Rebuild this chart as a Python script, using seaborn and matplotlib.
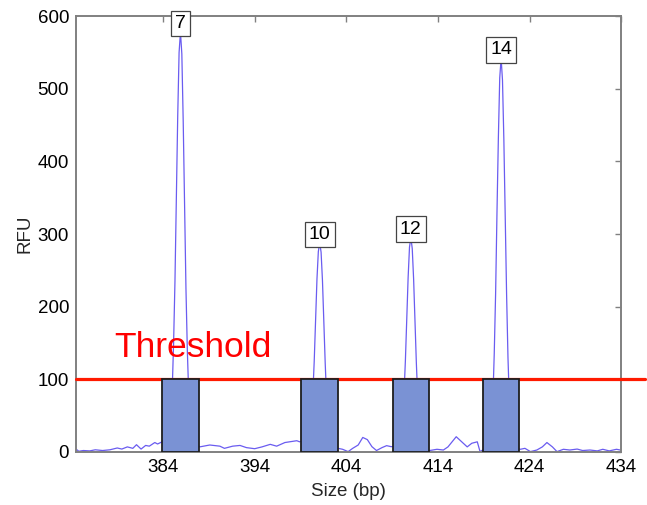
import numpy as np
import pandas as pd
import matplotlib
matplotlib.use("Agg")
import matplotlib.pyplot as plt
import matplotlib.transforms as mtransforms
import seaborn as sns

# ---------------- data ----------------
allele_labels = ["7", "10", "12", "14"]
allele_sizes = [385.9, 401.1, 411.05, 420.9]      # peak positions (bp)
peak_heights = [578, 288, 295, 542]               # RFU at peak top
bin_width = 4.0                                   # allele bin width (bp)
threshold = 100

trace_size = [
    374.5, 374.8, 375.3, 376.0, 376.6, 377.4, 378.2, 379.0, 379.5, 380.1,
    380.7, 381.1, 381.6, 382.1, 382.5, 383.1, 383.4, 383.9,
    384.4, 384.7, 384.85, 385.0, 385.15, 385.3, 385.45, 385.6, 385.75, 385.9,
    386.05, 386.2, 386.35, 386.5, 386.65, 386.8, 386.95, 387.1, 387.5,
    388.0, 389.1, 390.2, 390.7, 391.6, 392.4, 393.1, 394.0, 394.8, 395.7,
    396.4, 397.3, 397.8, 398.6, 398.9,
    399.5, 399.9, 400.2, 400.35, 400.5, 400.65, 400.8, 400.95, 401.1, 401.25,
    401.4, 401.55, 401.7, 401.85, 402.0, 402.3, 402.7, 403.1,
    403.6, 404.2, 404.7, 405.3, 405.8, 406.3, 406.8, 407.3, 407.9, 408.4, 408.9,
    409.4, 409.9, 410.15, 410.3, 410.45, 410.6, 410.75, 410.9, 411.05, 411.2,
    411.35, 411.5, 411.65, 411.8, 411.95, 412.25, 412.6, 412.9,
    413.1, 413.9, 414.6, 415.1, 416.0, 416.6, 417.2, 417.7, 418.3, 418.6,
    419.2, 419.7, 419.85, 420.0, 420.15, 420.3, 420.45, 420.6, 420.75, 420.9,
    421.05, 421.2, 421.35, 421.5, 421.65, 421.8, 421.95, 422.1, 422.5, 422.9,
    423.0, 423.5, 424.1, 424.8, 425.4, 425.9, 426.5, 427.0, 427.7, 428.4,
    429.2, 429.8, 430.6, 431.4, 432.0, 432.7, 433.5, 433.9,
]
trace_rfu = [
    4, 1, 2, 1.5, 3, 2, 3, 5.5, 4, 7,
    5, 10, 4, 9, 8, 13, 11, 14,
    18, 28, 48, 85, 150, 235, 345, 462, 550, 578,
    548, 455, 340, 225, 140, 80, 42, 24, 12,
    7, 9.6, 8, 5, 8, 9, 6, 4.5, 7, 10.5,
    8, 13, 14, 15.5, 14,
    16, 20, 45, 80, 125, 180, 238, 276, 288, 275,
    236, 178, 122, 75, 42, 14, 8, 5,
    3.7, 0.5, 5, 9.6, 20, 17, 7.3, 2, 6, 8.7, 7.3,
    8, 12, 45, 80, 125, 182, 240, 282, 295, 280,
    238, 180, 122, 75, 42, 14, 6, 3,
    2, 3.7, 2.7, 7, 21, 14, 7, 12, 14, 0.5,
    5, 16, 36, 72, 135, 218, 330, 432, 515, 542,
    512, 430, 325, 216, 130, 70, 35, 17, 6, 4,
    3.7, 5, 0.5, 2.7, 7, 13, 7, 0.5, 3.7, 2.7,
    4, 2, 2.7, 1.5, 3.7, 1.5, 3.7, 2.7,
]

x_ticks = [384, 394, 404, 414, 424, 434]
y_ticks = [0, 100, 200, 300, 400, 500, 600]

trace = pd.DataFrame({"size": trace_size, "rfu": trace_rfu})

# ---------------- style ----------------
sns.set_style("white")
plt.rcParams["font.family"] = ["Liberation Sans", "DejaVu Sans"]
plt.rcParams["xtick.direction"] = "in"
plt.rcParams["ytick.direction"] = "in"

fig = plt.figure(figsize=(6.47, 5.05), dpi=100)
ax = fig.add_axes([0.1175, 0.105, 0.8425, 0.863])

spine_col = "#808080"
for s in ax.spines.values():
    s.set_color(spine_col)
    s.set_linewidth(1.4)
    s.set_visible(True)

# trace
sns.lineplot(data=trace, x="size", y="rfu", ax=ax, color="#6a5cf0",
             linewidth=0.9, estimator=None, sort=False, zorder=2)

# threshold line (extends beyond the right spine)
trans = mtransforms.blended_transform_factory(ax.transAxes, ax.transData)
ax.plot([0, 1.044], [threshold, threshold], transform=trans,
        color="#ff1a00", linewidth=2.3, clip_on=False, zorder=2.6)

# allele bins
ax.bar(allele_sizes, [threshold] * len(allele_sizes), width=bin_width,
       color="#7a92d4", edgecolor="#1e1e1e", linewidth=1.3, zorder=3)

# allele labels
for xs, h, lab in zip(allele_sizes, peak_heights, allele_labels):
    ax.text(xs, h, lab, ha="center", va="bottom", fontsize=14,
            color="black", zorder=6,
            bbox=dict(boxstyle="square,pad=0.22", facecolor="white",
                      edgecolor="#444444", linewidth=0.9))

ax.text(378.65, 131, "Threshold", color="#ff0000", fontsize=25.5,
        ha="left", va="baseline", zorder=5)

ax.set_xlim(374.5, 434)
ax.set_ylim(0, 600)
ax.set_xticks(x_ticks)
ax.set_yticks(y_ticks)
ax.tick_params(axis="both", which="both", direction="in", length=4.5,
               width=1.0, color=spine_col, labelsize=13.5, labelcolor="black",
               top=True, right=True, pad=5)
ax.set_xlabel("Size (bp)", fontsize=13.5, labelpad=5)
ax.set_ylabel("RFU", fontsize=13.5, labelpad=3)

fig.savefig("out.png", dpi=100, facecolor="white")
